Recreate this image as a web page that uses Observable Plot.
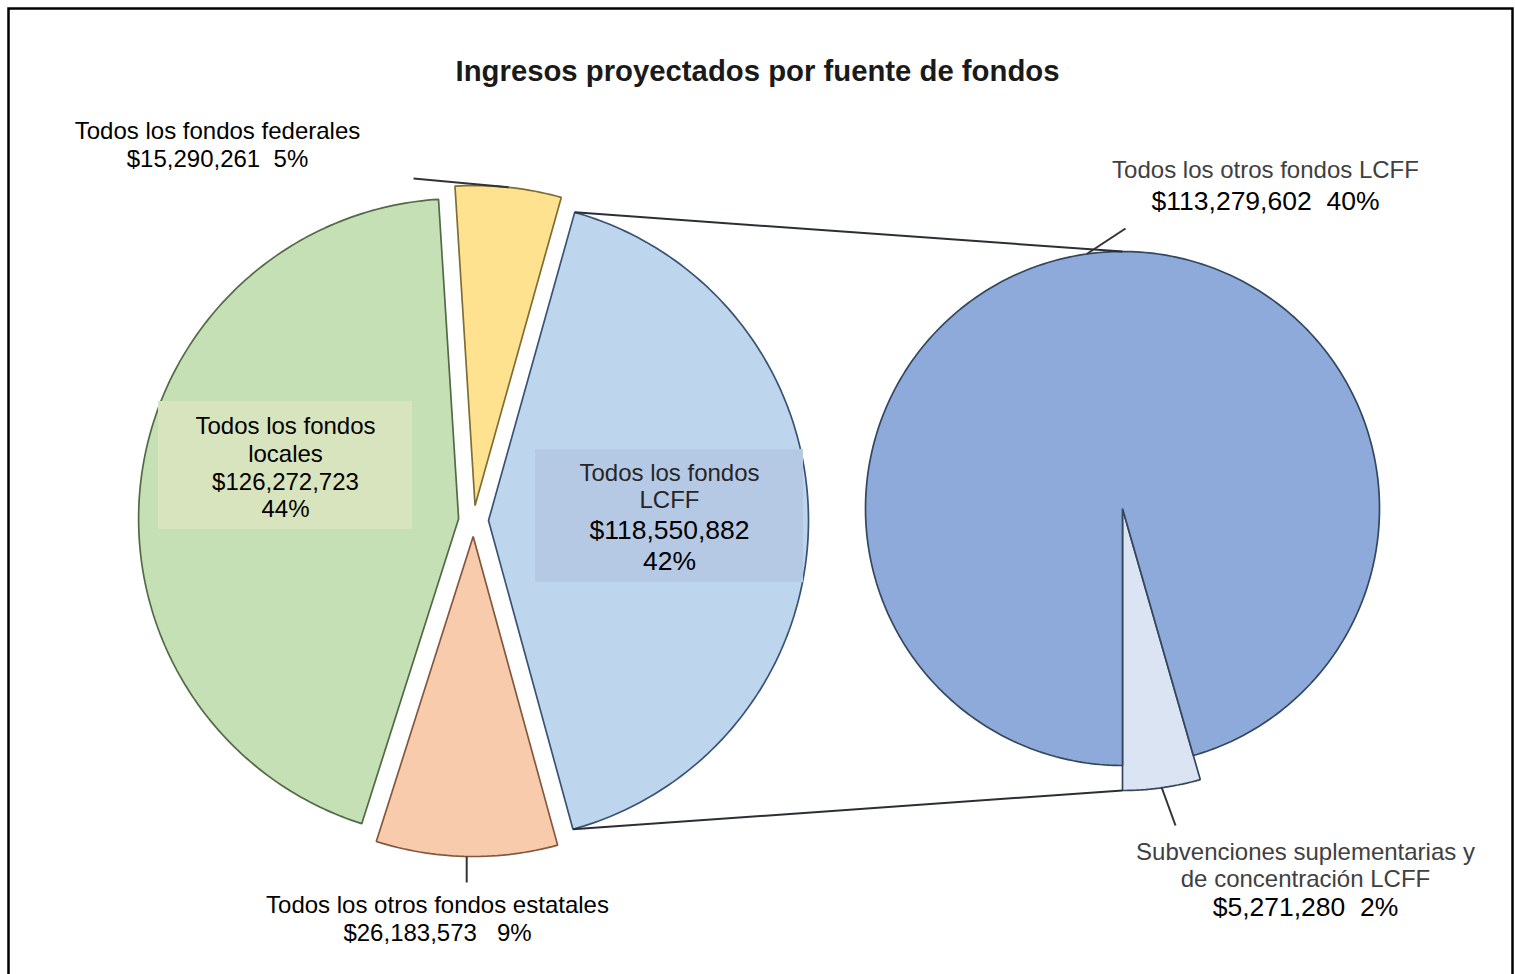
<!DOCTYPE html>
<html>
<head>
<meta charset="utf-8">
<script src="https://cdn.jsdelivr.net/npm/d3@7"></script>
<script src="https://cdn.jsdelivr.net/npm/@observablehq/plot@0.6"></script>
<style>
  html, body { margin: 0; padding: 0; background: #fff; overflow: hidden; }
  #chart svg { display: block; }
</style>
</head>
<body>
<div id="chart"></div>
<script>
// ---------------- DATA ----------------
const title = "Ingresos proyectados por fuente de fondos";
const mainCategories = [
  "Todos los fondos federales",
  "Todos los fondos LCFF",
  "Todos los otros fondos estatales",
  "Todos los fondos locales"
];
const mainValues = [15290261, 118550882, 26183573, 126272723];
const mainPercents = ["5%", "42%", "9%", "44%"];

const subCategories = [
  "Subvenciones suplementarias y de concentración LCFF",
  "Todos los otros fondos LCFF"
];
const subValues = [5271280, 113279602];
const subPercents = ["2%", "40%"];

// ---------------- LAYOUT / STYLE ----------------
const W = 1515, H = 974;
const deg = Math.PI / 180;
const FONT = "'Liberation Sans', Arial, Helvetica, sans-serif";

const fillColors = {
  "Todos los fondos federales": "#ffe28f",
  "Todos los fondos LCFF": "#bdd6ee",
  "Todos los otros fondos estatales": "#f8cbad",
  "Todos los fondos locales": "#c5e0b4",
  "Subvenciones suplementarias y de concentración LCFF": "#dae4f3",
  "Todos los otros fondos LCFF": "#8eaadb"
};
const strokeColors = {
  "Todos los fondos federales": "#7e6e36",
  "Todos los fondos LCFF": "#3a5274",
  "Todos los otros fondos estatales": "#84583e",
  "Todos los fondos locales": "#526a47",
  "Subvenciones suplementarias y de concentración LCFF": "#34475d",
  "Todos los otros fondos LCFF": "#34475d"
};

const mainPie = {cx: 473, cy: 520, start: -3.6 * deg, radius: [320, 320, 320, 320], explode: [15, 15, 16, 15]};
// second pie: small slice ends exactly at 6 o'clock
const subFrac = subValues[0] / d3.sum(subValues);
const subPie = {cx: 1122, cy: 508, start: Math.PI - subFrac * 2 * Math.PI, radius: [282, 257], explode: [0, 0]};

function buildPie(cats, values, cfg) {
  const arcs = d3.pie().sort(null).value(d => d)
    .startAngle(cfg.start).endAngle(cfg.start + 2 * Math.PI)(values);
  const pts = [], info = [];
  arcs.forEach((a, i) => {
    const mid = (a.startAngle + a.endAngle) / 2;
    const e = cfg.explode[i], r = cfg.radius[i];
    const ox = cfg.cx + e * Math.sin(mid), oy = cfg.cy - e * Math.cos(mid);
    const n = Math.max(8, Math.ceil((a.endAngle - a.startAngle) / deg));
    pts.push({cat: cats[i], x: ox, y: oy});
    for (let k = 0; k <= n; k++) {
      const t = a.startAngle + (a.endAngle - a.startAngle) * k / n;
      pts.push({cat: cats[i], x: ox + r * Math.sin(t), y: oy - r * Math.cos(t)});
    }
    const at = (ang, rr = r) => ({x: ox + rr * Math.sin(ang), y: oy - rr * Math.cos(ang)});
    info.push({cat: cats[i], ox, oy, r, a0: a.startAngle, a1: a.endAngle, mid, at});
  });
  return {pts, info};
}

const main = buildPie(mainCategories, mainValues, mainPie);
const sub = buildPie(subCategories, subValues, subPie);

// connector (series) lines from the LCFF slice to the second pie
const lcff = main.info[1];
const c0 = lcff.at(lcff.a0), c1 = lcff.at(lcff.a1);
const connectors = [
  {x1: c0.x, y1: c0.y, x2: subPie.cx, y2: subPie.cy - subPie.radius[1]},
  {x1: c1.x, y1: c1.y, x2: subPie.cx, y2: subPie.cy + subPie.radius[0]}
];

// leader lines
const fedMid = main.info[0].at(main.info[0].mid);
const stateMid = main.info[2].at(main.info[2].mid);
const otrosMid = sub.info[1].at(sub.info[1].mid);
const subMid = sub.info[0].at(sub.info[0].mid);
const leaders = [
  {x1: fedMid.x, y1: fedMid.y, x2: 413, y2: 178},
  {x1: stateMid.x, y1: stateMid.y, x2: stateMid.x, y2: 882},
  {x1: otrosMid.x, y1: otrosMid.y, x2: 1125, y2: 228},
  {x1: subMid.x, y1: subMid.y, x2: 1175, y2: 825}
];

// label layout
const fmt = d3.format("$,");
const nb = n => "\u00a0".repeat(n);
const labelSpecs = [
  {src: "main", i: 0, x: 217, ys: [131, 159], breakAfter: null, split: false, gap: 2, nameFill: "#000", valueSize: 24},
  {src: "main", i: 3, x: 285, ys: [426, 454, 482, 509], breakAfter: 3, split: true, nameFill: "#000", valueSize: 24,
   box: {x1: 158, x2: 412, y1: 401, y2: 529, fill: "#d8e4bd"}},
  {src: "main", i: 1, x: 669, ys: [473, 500, 530.5, 561.5], breakAfter: 3, split: true, nameFill: "#262626", valueSize: 26.5,
   box: {x1: 535, x2: 803, y1: 449, y2: 582, fill: "#b5c9e5"}},
  {src: "main", i: 2, x: 437, ys: [905, 933], breakAfter: null, split: false, gap: 3, nameFill: "#000", valueSize: 24},
  {src: "sub", i: 1, x: 1265, ys: [170, 201.5], breakAfter: null, split: false, gap: 2, nameFill: "#404040", valueSize: 26.5},
  {src: "sub", i: 0, x: 1305, ys: [852, 879, 907.5], breakAfter: 3, split: false, gap: 2, nameFill: "#404040", valueSize: 26.5}
];

const nameLines = [], valueLines = [], boxes = [];
for (const s of labelSpecs) {
  const cats = s.src === "main" ? mainCategories : subCategories;
  const vals = s.src === "main" ? mainValues : subValues;
  const pcts = s.src === "main" ? mainPercents : subPercents;
  const words = cats[s.i].split(" ");
  const names = s.breakAfter ? [words.slice(0, s.breakAfter).join(" "), words.slice(s.breakAfter).join(" ")] : [cats[s.i]];
  const values = s.split ? [fmt(vals[s.i]), pcts[s.i]] : [fmt(vals[s.i]) + nb(s.gap) + pcts[s.i]];
  let k = 0;
  for (const t of names) nameLines.push({x: s.x, y: s.ys[k++], text: t, fill: s.nameFill});
  for (const t of values) valueLines.push({x: s.x, y: s.ys[k++], text: t, size: s.valueSize});
  if (s.box) boxes.push(s.box);
}

// ---------------- MARKS ----------------
const allCats = [...mainCategories, ...subCategories];
const marks = [];

for (const inf of [...main.info, ...sub.info]) {
  const src = mainCategories.includes(inf.cat) ? main.pts : sub.pts;
  marks.push(Plot.line(src.filter(p => p.cat === inf.cat), {
    x: "x", y: "y", fill: "cat", stroke: strokeColors[inf.cat], strokeWidth: 1.7,
    curve: "linear-closed", strokeLinejoin: "miter"
  }));
}

marks.push(Plot.link(connectors, {x1: "x1", y1: "y1", x2: "x2", y2: "y2", stroke: "#2a2f36", strokeWidth: 2}));
marks.push(Plot.link(leaders, {x1: "x1", y1: "y1", x2: "x2", y2: "y2", stroke: "#333", strokeWidth: 2}));

for (const b of boxes) {
  marks.push(Plot.rect([b], {x1: "x1", x2: "x2", y1: "y1", y2: "y2", fill: b.fill}));
}

for (const col of [...new Set(nameLines.map(d => d.fill))]) {
  marks.push(Plot.text(nameLines.filter(d => d.fill === col), {
    x: "x", y: "y", text: "text", fill: col, fontSize: 24, textAnchor: "middle"
  }));
}
for (const sz of [...new Set(valueLines.map(d => d.size))]) {
  marks.push(Plot.text(valueLines.filter(d => d.size === sz), {
    x: "x", y: "y", text: "text", fill: "#000", fontSize: sz, textAnchor: "middle"
  }));
}

marks.push(Plot.text([title], {x: () => 757, y: () => 71, text: d => d, fontSize: 29.3, fontWeight: "bold", fill: "#1a1a1a"}));

marks.push(Plot.frame({stroke: "#000", strokeWidth: 2.5, insetLeft: 8, insetTop: 8, insetRight: 3, insetBottom: -20}));

const chart = Plot.plot({
  width: W, height: H, margin: 0,
  style: {fontFamily: FONT, background: "#fff", overflow: "hidden"},
  x: {domain: [0, W], range: [0, W], axis: null},
  y: {domain: [0, H], range: [0, H], axis: null},
  color: {domain: allCats, range: allCats.map(c => fillColors[c])},
  marks
});
document.getElementById("chart").appendChild(chart);
</script>
</body>
</html>
